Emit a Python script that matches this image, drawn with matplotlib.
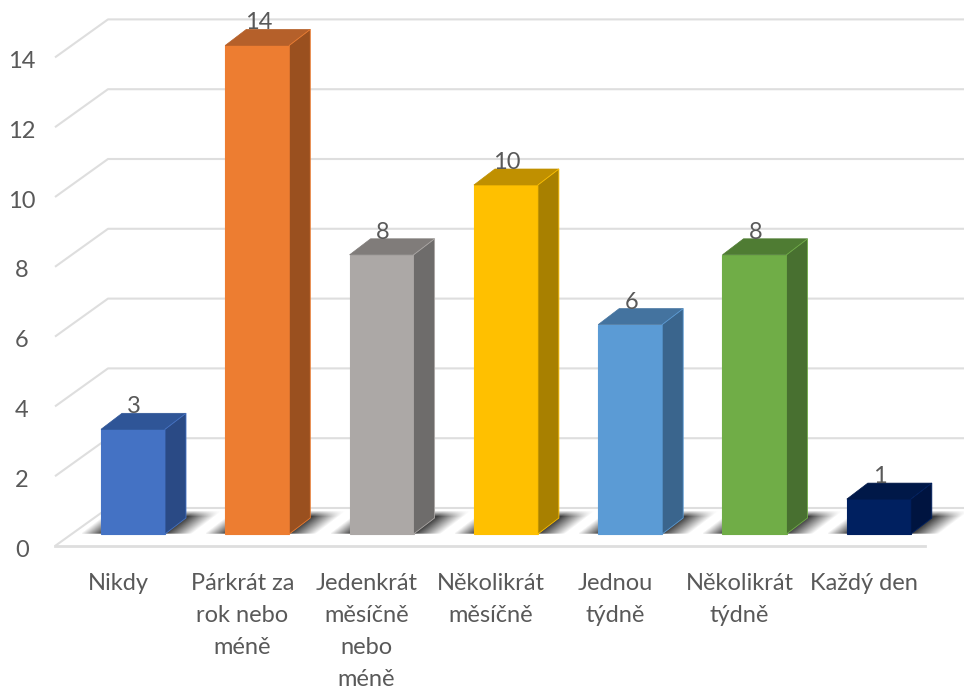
import numpy as np
import matplotlib
matplotlib.use("Agg")
import matplotlib.pyplot as plt
from matplotlib.patches import Polygon

categories = ["Nikdy", "Párkrát za\nrok nebo\nméně", "Jedenkrát\nměsíčně\nnebo\nméně",
              "Několikrát\nměsíčně", "Jednou\ntýdně", "Několikrát\ntýdně", "Každý den"]
values = [3, 14, 8, 10, 6, 8, 1]
y_ticks = [0, 2, 4, 6, 8, 10, 12, 14]

front_colors = ["#4472C4", "#ED7D31", "#ACA8A6", "#FFC000", "#5B9BD5", "#70AD47", "#002060"]
top_colors = ["#2F5597", "#B5602A", "#807C7A", "#C09000", "#44739F", "#4F7C33", "#001848"]
side_colors = ["#2A4A85", "#9A501F", "#6E6C6B", "#A88000", "#3A658D", "#487030", "#001440"]

plt.rcParams["font.family"] = ["Lato", "DejaVu Sans"]

W, H = 964, 689
PX_X = 124.3  # pixels per category
PX_Y = 34.9   # pixels per value unit
BASE_X, BASE_Y = 133, 534  # first bar centre, bar foot

half_w = 32 / PX_X
dep_x = 21 / PX_X
dep_y = 16 / PX_Y
grid_back = 26 / PX_Y
grid_front = -12 / PX_Y
left_front = (55 - BASE_X) / PX_X
left_back = (108 - BASE_X) / PX_X
right_front = (925 - BASE_X) / PX_X
right_back = (W - BASE_X) / PX_X

fig = plt.figure(figsize=(W / 100, H / 100), dpi=100)
ax = fig.add_axes([0, 0, 1, 1])
ax.axis("off")

grid_color = "#DEDEDE"
text_color = "#595959"
font_size = 17

# walls of the 3D frame
for v in y_ticks:
    ax.plot([left_front, left_back, right_back],
            [v + grid_front, v + grid_back, v + grid_back],
            color=grid_color, lw=1.5, zorder=1, solid_capstyle="butt")
ax.plot([left_front, right_front], [grid_front, grid_front], color=grid_color, lw=2, zorder=1)

# floor shadow, dark next to the bar and fading sideways, skewed with the depth
sh_w, sh_h = 150, 24
gx, gy = np.meshgrid(np.arange(sh_w), np.arange(sh_h))
u = gx - (sh_h - 1 - gy) * 21 / 16  # row 0 is the back of the floor
fade = np.interp(u, [-2, 20, 83, 110], [0, 1, 1, 0])
taper = np.interp(gy, [0, 6, sh_h - 2, sh_h - 1], [0, 1, 1, 0.7])
shadow = np.zeros((sh_h, sh_w, 4))
shadow[..., :3] = 0.2
shadow[..., 3] = fade * taper * 0.95

for i, v in enumerate(values):
    sx0 = i - 51 / PX_X
    ax.imshow(shadow, extent=[sx0, sx0 + sh_w / PX_X, 0, sh_h / PX_Y], aspect="auto",
              interpolation="bilinear", zorder=2)

# bars as three faces
for i, v in enumerate(values):
    x0, x1 = i - half_w, i + half_w
    ax.add_patch(Polygon([(x0, 0), (x1, 0), (x1, v), (x0, v)], closed=True,
                         facecolor=front_colors[i], edgecolor=front_colors[i], lw=0.8, zorder=4))
    ax.add_patch(Polygon([(x0, v), (x1, v), (x1 + dep_x, v + dep_y), (x0 + dep_x, v + dep_y)], closed=True,
                         facecolor=top_colors[i], edgecolor=top_colors[i], lw=0.5, zorder=4))
    ax.add_patch(Polygon([(x1, 0), (x1 + dep_x, dep_y), (x1 + dep_x, v + dep_y), (x1, v)], closed=True,
                         facecolor=side_colors[i], edgecolor=front_colors[i], lw=0.6, zorder=4))
    ax.text(i + 1 / PX_X, v + dep_y, str(v), ha="center", va="baseline",
            fontsize=font_size, color=text_color, zorder=5)

for v in y_ticks:
    ax.text((22 - BASE_X) / PX_X, v - 0.46, str(v), ha="center", va="center",
            fontsize=font_size, color=text_color)

for i, label in enumerate(categories):
    ax.text(i - 15 / PX_X, -(573 - BASE_Y) / PX_Y, label, ha="center", va="top",
            fontsize=font_size, color=text_color, linespacing=1.65)

ax.set_xlim(-BASE_X / PX_X, (W - BASE_X) / PX_X)
ax.set_ylim(-(H - BASE_Y) / PX_Y, BASE_Y / PX_Y)

fig.savefig("out.png", dpi=100)
